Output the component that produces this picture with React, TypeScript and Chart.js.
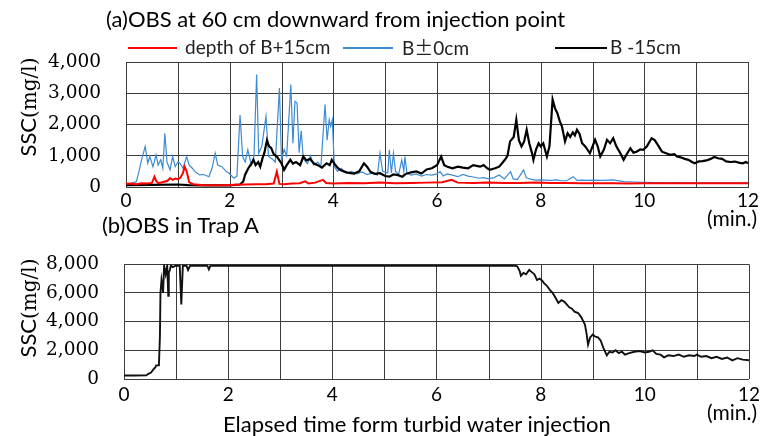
import React, { useEffect, useRef } from "react";
import { Chart, registerables } from "chart.js";

Chart.register(...registerables);

// ---------- DATA ----------
// (a) OBS at 60 cm downward: [minutes, SSC mg/l]
const redA: [number, number][] = [
  [0, 100], [0.1, 110], [0.2, 90], [0.3, 120], [0.4, 110], [0.5, 130], [0.55, 330], [0.58, 200], [0.62, 120],
  [0.7, 150], [0.8, 200], [0.85, 280], [0.9, 230], [0.95, 270], [1.0, 250], [1.05, 300], [1.1, 450], [1.13, 650],
  [1.17, 500], [1.22, 150], [1.3, 90], [1.5, 60], [1.7, 60], [1.9, 60], [2.1, 70], [2.3, 80], [2.5, 90], [2.7, 90],
  [2.85, 110], [2.91, 490], [2.96, 100], [3.05, 90], [3.2, 110], [3.35, 120], [3.46, 180], [3.52, 110], [3.65, 140],
  [3.8, 230], [3.86, 130], [4.0, 110], [4.3, 130], [4.6, 120], [4.9, 140], [5.2, 120], [5.5, 130], [5.8, 140],
  [6.1, 150], [6.28, 230], [6.4, 140], [6.7, 130], [7.0, 140], [7.3, 130], [7.6, 130], [7.9, 140], [8.2, 130],
  [8.5, 130], [8.8, 120], [9.1, 120], [9.4, 120], [9.7, 110], [10.0, 120], [10.3, 120], [10.6, 120], [10.9, 120],
  [11.2, 120], [11.5, 120], [11.8, 120], [12, 120],
];

const blueA: [number, number][] = [
  [0, 100], [0.1, 120], [0.2, 170], [0.25, 500], [0.3, 870], [0.37, 1300], [0.42, 760], [0.46, 975], [0.52, 650],
  [0.58, 1030], [0.62, 700], [0.67, 870], [0.71, 600], [0.75, 1720], [0.79, 800], [0.85, 550], [0.9, 975],
  [0.95, 650], [1.0, 800], [1.04, 760], [1.1, 600], [1.17, 975], [1.22, 700], [1.28, 600], [1.33, 490],
  [1.42, 385], [1.5, 400], [1.6, 330], [1.66, 600], [1.72, 1080], [1.77, 700], [1.85, 650], [1.93, 500],
  [1.99, 440], [2.08, 280], [2.14, 350], [2.2, 2300], [2.25, 975], [2.3, 800], [2.35, 1190], [2.42, 700],
  [2.47, 1000], [2.52, 3600], [2.56, 1080], [2.62, 1300], [2.7, 2260], [2.75, 975], [2.82, 900], [2.88, 800],
  [2.96, 3170], [3.0, 870], [3.05, 1200], [3.1, 1000], [3.18, 3280], [3.22, 1400], [3.26, 2740], [3.3, 2690],
  [3.34, 1100], [3.38, 1800], [3.42, 900], [3.5, 750], [3.56, 1000], [3.62, 700], [3.7, 800], [3.76, 650],
  [3.84, 2640], [3.88, 1500], [3.92, 2150], [3.95, 1940], [3.98, 2150], [4.02, 650], [4.08, 500], [4.15, 600],
  [4.25, 440], [4.35, 500], [4.45, 420], [4.55, 480], [4.65, 400], [4.75, 450], [4.85, 380], [4.9, 1080],
  [4.95, 500], [5.05, 450], [5.08, 1190], [5.12, 450], [5.16, 1080], [5.2, 500], [5.26, 400], [5.32, 870],
  [5.36, 500], [5.38, 975], [5.42, 450], [5.5, 380], [5.6, 420], [5.7, 350], [5.8, 400], [5.9, 380], [6.0, 420],
  [6.06, 490], [6.12, 350], [6.2, 420], [6.3, 380], [6.4, 330], [6.5, 400], [6.6, 350], [6.7, 320], [6.8, 280],
  [6.9, 300], [7.0, 260], [7.1, 300], [7.2, 385], [7.3, 260], [7.42, 490], [7.47, 260], [7.55, 240], [7.67, 550],
  [7.72, 300], [7.8, 250], [7.9, 220], [8.0, 230], [8.1, 220], [8.2, 210], [8.3, 230], [8.4, 200], [8.5, 200],
  [8.63, 330], [8.7, 210], [8.8, 220], [8.9, 210], [9.0, 220], [9.2, 210], [9.4, 230], [9.6, 170], [9.8, 160],
  [10.0, 150], [10.2, 140], [10.4, 130], [10.6, 140], [10.8, 130], [11.0, 130], [11.5, 130], [12, 130],
];

const blackA: [number, number][] = [
  [0, 60], [0.5, 70], [1.0, 80], [1.2, 60], [1.5, 50], [2.0, 50], [2.2, 80], [2.26, 170], [2.3, 400], [2.36, 600],
  [2.42, 750], [2.46, 870], [2.5, 700], [2.55, 800], [2.59, 650], [2.63, 900], [2.67, 1100], [2.72, 1500],
  [2.76, 1300], [2.8, 1250], [2.85, 1050], [2.91, 975], [2.96, 850], [3.0, 760], [3.05, 550], [3.1, 700],
  [3.17, 870], [3.22, 750], [3.28, 800], [3.36, 700], [3.42, 975], [3.48, 850], [3.55, 900], [3.62, 760],
  [3.7, 700], [3.78, 620], [3.87, 760], [3.93, 700], [3.97, 870], [4.02, 750], [4.08, 620], [4.13, 550],
  [4.2, 500], [4.3, 450], [4.4, 430], [4.5, 500], [4.59, 760], [4.65, 650], [4.72, 480], [4.8, 420], [4.9, 440],
  [5.0, 350], [5.08, 330], [5.16, 400], [5.25, 380], [5.33, 330], [5.4, 420], [5.5, 470], [5.6, 500], [5.7, 430],
  [5.8, 560], [5.9, 600], [6.0, 700], [6.08, 975], [6.14, 700], [6.2, 650], [6.3, 600], [6.4, 650], [6.5, 620],
  [6.6, 600], [6.7, 700], [6.83, 650], [6.9, 700], [6.97, 600], [7.02, 550], [7.12, 600], [7.2, 650],
  [7.31, 870], [7.36, 1000], [7.41, 1460], [7.48, 1600], [7.53, 2150], [7.58, 1500], [7.63, 1300], [7.68, 1450],
  [7.73, 1830], [7.78, 1400], [7.83, 1100], [7.86, 870], [7.91, 1200], [7.96, 1400], [8.0, 1300], [8.05, 1400],
  [8.12, 975], [8.17, 1300], [8.23, 2800], [8.28, 2500], [8.32, 2370], [8.37, 2100], [8.41, 1940], [8.47, 1460],
  [8.52, 1720], [8.57, 1600], [8.62, 1750], [8.66, 1650], [8.7, 1830], [8.75, 1700], [8.8, 1400], [8.86, 1300],
  [8.95, 1080], [9.05, 1510], [9.1, 1300], [9.15, 975], [9.22, 1200], [9.28, 1510], [9.34, 1400], [9.4, 1560],
  [9.46, 1300], [9.53, 1100], [9.6, 870], [9.66, 1050], [9.73, 1240], [9.79, 1100], [9.85, 1130], [9.92, 1200],
  [9.98, 1190], [10.05, 1300], [10.1, 1450], [10.14, 1560], [10.2, 1500], [10.26, 1350], [10.34, 1130],
  [10.42, 1080], [10.5, 1030], [10.58, 1050], [10.63, 975], [10.7, 950], [10.78, 900], [10.85, 870],
  [10.92, 800], [10.97, 760], [11.05, 820], [11.12, 830], [11.2, 850], [11.28, 900], [11.35, 960], [11.42, 920],
  [11.5, 900], [11.58, 820], [11.66, 800], [11.75, 815], [11.82, 780], [11.9, 760], [11.96, 800], [12, 760],
];

// (b) OBS in Trap A
const blackB: [number, number][] = [
  [0, 240], [0.2, 240], [0.43, 250], [0.46, 340], [0.52, 450], [0.56, 650], [0.6, 800], [0.62, 950], [0.67, 950],
  [0.69, 3000], [0.7, 6000], [0.72, 6900], [0.74, 6400], [0.75, 6000], [0.77, 7900], [0.8, 7300], [0.83, 7900],
  [0.85, 5800], [0.86, 7400], [0.88, 7600], [0.9, 7900], [0.94, 7800], [0.99, 7900], [1.07, 7900], [1.1, 5200],
  [1.13, 7900], [1.2, 7900], [1.23, 7600], [1.27, 7900], [1.6, 7900], [1.63, 7650], [1.66, 7900], [7.5, 7900],
  [7.55, 7850], [7.6, 7500], [7.62, 7200], [7.67, 7400], [7.72, 7300], [7.78, 7600], [7.83, 7450], [7.88, 7300],
  [7.93, 6900], [7.98, 7000], [8.03, 6850], [8.06, 6700], [8.12, 6500], [8.18, 6200], [8.23, 6000], [8.28, 5700],
  [8.34, 5300], [8.4, 5500], [8.45, 5400], [8.5, 5200], [8.55, 5000], [8.6, 4900], [8.65, 4700], [8.72, 4600],
  [8.78, 4300], [8.85, 3800], [8.88, 3200], [8.91, 2400], [8.95, 2900], [9.0, 3100], [9.05, 2950], [9.1, 2900],
  [9.15, 2700], [9.2, 2200], [9.27, 1650], [9.32, 1900], [9.38, 1850], [9.44, 2000], [9.5, 1800], [9.56, 1900],
  [9.62, 1700], [9.7, 1800], [9.8, 1900], [9.9, 1950], [10.0, 1850], [10.08, 1900], [10.15, 2000], [10.22, 1750],
  [10.3, 1700], [10.37, 1510], [10.45, 1650], [10.55, 1600], [10.65, 1700], [10.75, 1550], [10.85, 1650],
  [10.95, 1600], [11.0, 1700], [11.08, 1550], [11.18, 1600], [11.28, 1450], [11.38, 1550], [11.48, 1400],
  [11.58, 1500], [11.68, 1300], [11.78, 1450], [11.88, 1350], [12, 1310],
];

const seriesLabelsA = ["depth of B+15cm", "B±0cm", "B -15cm"];
const xGridMinutes = [0, 1, 2, 3, 4, 5, 6, 7, 8, 9, 10, 11, 12];
const xLabelStep = 2;

// ---------- STYLE ----------
const SANS = 'Lato, "Open Sans", sans-serif';
const SERIF = '"DejaVu Serif", "Liberation Serif", serif';
const GRID = "#3c3c3c";

const toPts = (a: [number, number][]) => a.map(([x, y]) => ({ x, y }));

// vertical grid line at every minute, positioned by the chart's own x scale
const minuteGrid = {
  id: "minuteGrid",
  beforeDatasetsDraw(chart: any) {
    const { ctx, chartArea, scales } = chart;
    ctx.save();
    ctx.strokeStyle = GRID;
    ctx.lineWidth = 1;
    for (const v of xGridMinutes) {
      const px = Math.round(scales.x.getPixelForValue(v)) + 0.5;
      ctx.beginPath();
      ctx.moveTo(px, chartArea.top);
      ctx.lineTo(px, chartArea.bottom);
      ctx.stroke();
    }
    ctx.restore();
  },
};

function makeScales(yMax: number, yStep: number, yWidth: number, xHeight: number, xPad: number) {
  return {
    x: {
      type: "linear" as const,
      min: 0,
      max: 12,
      ticks: {
        stepSize: xLabelStep,
        autoSkip: false,
        maxRotation: 0,
        padding: xPad,
        color: "#000",
        font: { family: SANS, size: 19 },
      },
      grid: { display: false, drawTicks: false },
      border: { display: true, color: GRID, width: 1 },
      afterFit: (s: any) => { s.height = xHeight; },
    },
    y: {
      min: 0,
      max: yMax,
      ticks: {
        stepSize: yStep,
        maxTicksLimit: 50,
        autoSkip: false,
        padding: 25,
        color: "#000",
        font: { family: SERIF, size: 18.5, lineHeight: 1 },
        callback: (v: any) => Number(v).toLocaleString("en-US"),
      },
      grid: { color: GRID, lineWidth: 1, drawTicks: false },
      border: { display: true, color: GRID, width: 1 },
      afterFit: (s: any) => { s.width = yWidth; },
    },
  };
}

export default function App() {
  const refA = useRef<HTMLCanvasElement>(null);
  const refB = useRef<HTMLCanvasElement>(null);

  useEffect(() => {
    const common = {
      responsive: false,
      animation: false as const,
      devicePixelRatio: 1,
      plugins: { legend: { display: false }, tooltip: { enabled: false } },
      elements: { point: { radius: 0 }, line: { tension: 0 } },
    };
    const chartA = new Chart(refA.current!, {
      type: "line",
      data: {
        datasets: [
          { label: seriesLabelsA[0], data: toPts(redA), borderColor: "#ff0000", borderWidth: 2 },
          { label: seriesLabelsA[2], data: toPts(blackA), borderColor: "#000000", borderWidth: 2.2 },
          { label: seriesLabelsA[1], data: toPts(blueA), borderColor: "#3d8bd3", borderWidth: 1.2 },
        ],
      },
      options: {
        ...common,
        layout: { padding: { top: 62, right: 16, left: 0, bottom: 0 } },
        scales: makeScales(4000, 1000, 126, 43, 2),
      } as any,
      plugins: [minuteGrid],
    });
    const chartB = new Chart(refB.current!, {
      type: "line",
      data: {
        datasets: [
          { label: "Trap A", data: toPts(blackB), borderColor: "#111111", borderWidth: 1.9 },
        ],
      },
      options: {
        ...common,
        layout: { padding: { top: 17, right: 15, left: 0, bottom: 0 } },
        scales: makeScales(8000, 2000, 124, 57, 4),
      } as any,
      plugins: [minuteGrid],
    });
    return () => {
      chartA.destroy();
      chartB.destroy();
    };
  }, []);

  const abs = (o: React.CSSProperties): React.CSSProperties => ({ position: "absolute", whiteSpace: "nowrap", ...o });
  const legLine = (left: number, width: number, color: string) => (
    <div style={abs({ left, top: 47, width, height: 2, background: color })} />
  );
  const legText = (left: number, content: React.ReactNode) => (
    <div style={abs({ left, top: 36, fontFamily: SANS, fontSize: 19, lineHeight: "22px", color: "#222" })}>{content}</div>
  );
  const yTitle = (cx: number, cy: number) => (
    <div
      style={abs({
        left: cx,
        top: cy,
        transform: "translate(-50%, -50%) rotate(-90deg)",
        lineHeight: "26px",
        color: "#000",
      })}
    >
      <span style={{ fontFamily: SANS, fontSize: 22 }}>SSC</span>
      <span style={{ fontFamily: SERIF, fontSize: 20 }}>(mg/l)</span>
    </div>
  );

  return (
    <div style={{ position: "absolute", left: 0, top: 0, width: 764, height: 436, background: "#fff", overflow: "hidden" }}>
      <canvas ref={refA} width={764} height={230} style={{ position: "absolute", left: 0, top: 0 }} />
      <canvas ref={refB} width={764} height={206} style={{ position: "absolute", left: 0, top: 230 }} />

      <div style={abs({ left: 106, top: 6, fontFamily: SANS, fontSize: 22, lineHeight: "26px", color: "#000" })}>
        (a)OBS at 60 cm downward from injection point
      </div>
      {legLine(128, 49, "#ff0000")}
      {legText(185, seriesLabelsA[0])}
      {legLine(343, 50, "#3d8bd3")}
      {legText(402, <span>B<span style={{ fontFamily: '"Noto Sans CJK JP", sans-serif' }}>±</span>0cm</span>)}
      {legLine(555, 52, "#000000")}
      {legText(610, seriesLabelsA[2])}

      {yTitle(29, 107)}
      {yTitle(29, 308)}

      <div style={abs({ left: 707, top: 206, fontFamily: SANS, fontSize: 21, lineHeight: "24px", color: "#000" })}>(min.)</div>
      <div style={abs({ left: 102, top: 212, fontFamily: SANS, fontSize: 22, lineHeight: "26px", color: "#000" })}>(b)OBS in Trap A</div>
      <div style={abs({ left: 707, top: 400, fontFamily: SANS, fontSize: 21, lineHeight: "24px", color: "#000" })}>(min.)</div>
      <div style={abs({ left: 223, top: 411, fontFamily: SANS, fontSize: 22, lineHeight: "26px", color: "#000" })}>
        Elapsed time form turbid water injection
      </div>
    </div>
  );
}
